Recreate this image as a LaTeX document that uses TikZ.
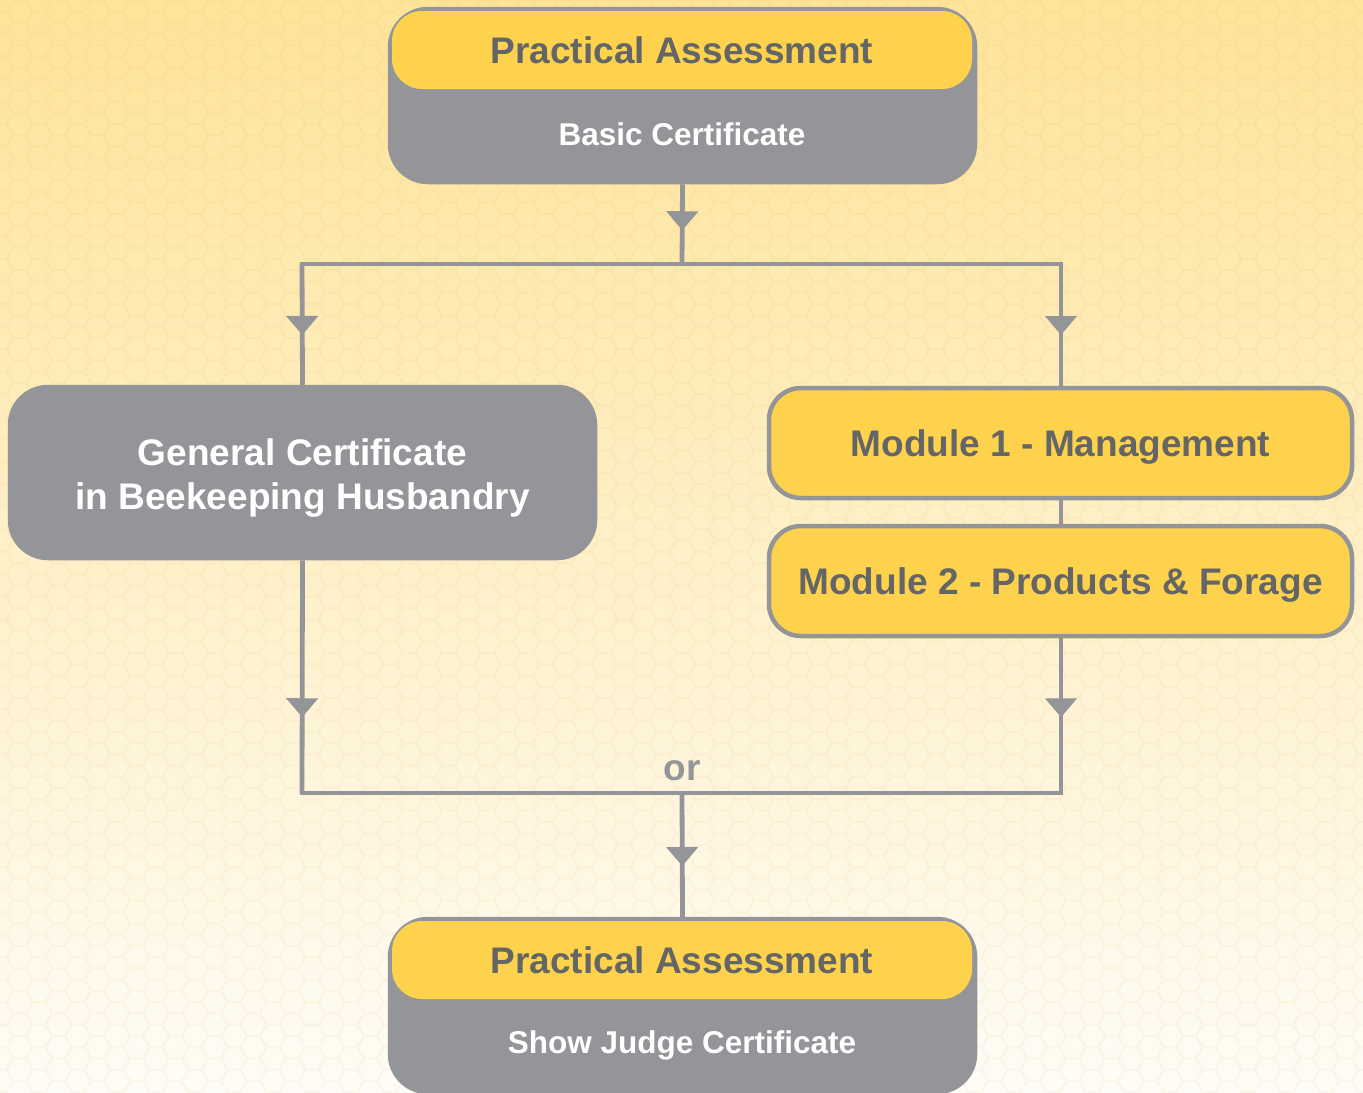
\documentclass[tikz,border=0pt]{standalone}
\usepackage{fontspec}
\setmainfont{Liberation Sans}
\usetikzlibrary{arrows.meta,decorations.markings}
\definecolor{bgtop}{HTML}{FEE398}
\definecolor{bgmid}{HTML}{FEF1CF}
\definecolor{bgbot}{HTML}{FEFCF6}
\definecolor{hexc}{HTML}{D9A43A}
\definecolor{boxgray}{HTML}{939598}
\definecolor{beeyellow}{HTML}{FED24C}
\definecolor{darktext}{HTML}{646567}
\begin{document}
\begin{tikzpicture}[x=0.5pt,y=-0.5pt,
  conn/.style={draw=boxgray,color=boxgray,line width=2.4pt},
  tipat/.style={postaction={decorate},decoration={markings,mark=at position #1 with {\arrow{Triangle[width=15.5pt,length=9.5pt]}}}},
  bigfont/.style={font=\fontsize{18.5}{22}\selectfont\bfseries},
  smallfont/.style={font=\fontsize{15.75}{19}\selectfont\bfseries},
  graybox/.style={draw=boxgray,line width=2.25pt,fill=boxgray,rounded corners=19pt,
    minimum width=292.5pt,minimum height=86.5pt,inner sep=0pt},
  yband/.style={fill=beeyellow,rounded corners=15pt,minimum width=290pt,minimum height=39pt,
    inner sep=0pt,bigfont,text=darktext,text height=13.25pt,text depth=0pt},
  sublabel/.style={smallfont,text=white,inner sep=0pt,text height=11.3pt,text depth=0pt},
  ybox/.style={draw=boxgray,line width=2.25pt,fill=beeyellow,rounded corners=16pt,
    minimum width=291.5pt,minimum height=55pt,inner sep=0pt,bigfont,text=darktext,
    text height=13.25pt,text depth=0pt},
]
\useasboundingbox (0,0) rectangle (1363,1092);
\begin{scope}
\clip (0,0) rectangle (1363,1092);
\shade[top color=bgtop,middle color=bgmid,bottom color=bgbot] (0,0) rectangle (1363,1092);
\begin{scope}[transparency group,opacity=0.06]
\foreach \i in {0,...,70}{
  \pgfmathsetmacro{\hx}{\i*19.5}
  \pgfmathsetmacro{\hy}{mod(\i,2)*11.26}
  \draw[hexc,line width=1pt] \foreach \j in {0,...,49}{
    ({\hx+13},{\hy+\j*22.52}) -- ++(120:13) -- ++(180:13) -- ++(240:13) -- ++(300:13) -- ++(0:13) -- cycle};
}
\end{scope}

% boxes
\node[graybox] (top) at (682.5,95.5) {};
\node[yband] (topband) at (682,50) {Practical Assessment};
\node[sublabel] (toplabel) at (682,134) {Basic Certificate};

\node[graybox,minimum height=85.5pt] (gen) at (302.5,472.5) {};
\node[align=center,text=white,bigfont,inner sep=0pt] (genlabel) at (302.5,478)
  {General Certificate\\in Beekeeping Husbandry};

\node[ybox] (m1) at (1060.5,443) {Module 1 - Management};
\node[ybox] (m2) at (1060.5,581) {Module 2 - Products \& Forage};

\node[graybox] (bot) at (682.5,1005.5) {};
\node[yband] (botband) at (682,960) {Practical Assessment};
\node[sublabel] (botlabel) at (682,1042) {Show Judge Certificate};

% junction coordinates
\coordinate (jt) at (682,264);
\coordinate (jl) at (302,264);
\coordinate (jr) at (1061,264);
\coordinate (bl) at (302,793);
\coordinate (br) at (1061,793);
\coordinate (jb) at (682,793);

% connectors
\draw[conn,tipat=23pt] (top.south) -- (jt);
\draw[conn,line cap=rect] (jl) -- (jr);
\draw[conn,tipat=35.5pt] (jl) -- (gen.north);
\draw[conn,tipat=35.5pt] (jr) -- (m1.north -| jr);
\draw[conn] (m1.south -| jr) -- (m2.north -| jr);
\draw[conn,tipat=78.5pt] (gen.south) -- (bl);
\draw[conn,tipat=39.5pt] (m2.south -| br) -- (br);
\draw[conn,line cap=rect] (bl) -- (br);
\draw[conn,tipat=36.5pt] (jb) -- (bot.north);

\node[bigfont,text=boxgray,anchor=base,inner sep=0pt] (or) at (682,780) {or};
\end{scope}
\end{tikzpicture}
\end{document}
